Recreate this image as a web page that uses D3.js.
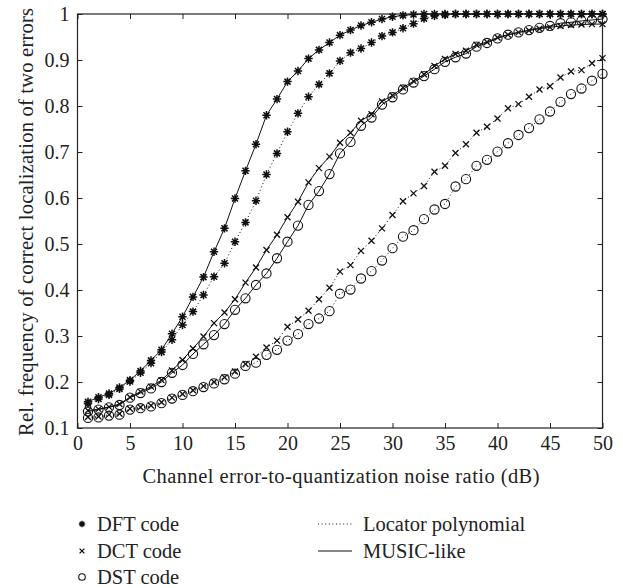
<!DOCTYPE html>
<html>
<head>
<meta charset="utf-8">
<script src="https://cdn.jsdelivr.net/npm/d3@7"></script>
<style>
html,body{margin:0;padding:0;background:#fff;}
svg{display:block;}
text{font-family:"Liberation Serif","Times New Roman",serif;fill:#222;}
</style>
</head>
<body>
<svg id="chart" width="623" height="588"></svg>
<script>
// ---- data ----
const snr = d3.range(1, 51);
const xTicks = [0,5,10,15,20,25,30,35,40,45,50];
const yTicks = [0.1,0.2,0.3,0.4,0.5,0.6,0.7,0.8,0.9,1];
const yTickLabels = ["0.1","0.2","0.3","0.4","0.5","0.6","0.7","0.8","0.9","1"];

const dftMusic = [0.157,0.167,0.175,0.188,0.204,0.224,0.247,0.270,0.305,0.342,
  0.385,0.428,0.483,0.534,0.599,0.659,0.717,0.780,0.815,0.853,
  0.876,0.903,0.922,0.938,0.954,0.965,0.975,0.982,0.989,0.994,
  0.997,0.999,1,1,1,1,1,1,1,1, 1,1,1,1,1,1,1,1,1,1];
const dftLocator = [0.153,0.163,0.172,0.185,0.201,0.220,0.241,0.265,0.292,0.324,
  0.353,0.389,0.429,0.458,0.505,0.547,0.594,0.651,0.697,0.744,
  0.784,0.820,0.847,0.871,0.898,0.916,0.925,0.938,0.952,0.960,
  0.969,0.979,0.990,0.996,0.998,1,1,1,1,1, 1,1,1,1,1,1,1,1,1,1];
const dctMusic = [0.138,0.141,0.146,0.152,0.167,0.179,0.190,0.204,0.225,0.248,
  0.273,0.299,0.328,0.351,0.380,0.416,0.449,0.487,0.520,0.558,
  0.592,0.634,0.665,0.690,0.720,0.742,0.768,0.782,0.810,0.823,
  0.840,0.854,0.869,0.887,0.902,0.913,0.920,0.933,0.939,0.949,
  0.955,0.960,0.964,0.968,0.971,0.974,0.976,0.977,0.978,0.978];
const dstMusic = [0.136,0.140,0.145,0.150,0.166,0.176,0.186,0.200,0.220,0.237,
  0.261,0.282,0.302,0.326,0.357,0.382,0.411,0.436,0.469,0.505,
  0.540,0.585,0.615,0.652,0.697,0.722,0.757,0.775,0.803,0.819,
  0.836,0.851,0.865,0.880,0.896,0.906,0.914,0.929,0.937,0.947,
  0.955,0.960,0.965,0.970,0.974,0.980,0.982,0.985,0.987,0.989];
const dctLocator = [0.124,0.125,0.129,0.131,0.142,0.145,0.149,0.156,0.166,0.174,
  0.182,0.191,0.200,0.210,0.223,0.239,0.255,0.275,0.290,0.320,
  0.336,0.355,0.380,0.405,0.440,0.454,0.485,0.507,0.534,0.563,
  0.593,0.610,0.626,0.657,0.670,0.698,0.717,0.742,0.755,0.773,
  0.795,0.804,0.820,0.836,0.843,0.862,0.875,0.878,0.893,0.904];
const dstLocator = [0.122,0.123,0.127,0.129,0.140,0.143,0.147,0.154,0.164,0.172,
  0.180,0.189,0.197,0.206,0.218,0.235,0.242,0.259,0.270,0.290,
  0.304,0.326,0.338,0.354,0.392,0.401,0.425,0.441,0.464,0.491,
  0.516,0.530,0.554,0.575,0.587,0.625,0.641,0.670,0.683,0.701,
  0.719,0.737,0.752,0.771,0.788,0.809,0.826,0.838,0.855,0.870];

const seriesList = [
  {values: dftMusic,   marker: "star",   style: "solid"},
  {values: dftLocator, marker: "star",   style: "dotted"},
  {values: dctMusic,   marker: "cross",  style: "solid"},
  {values: dctLocator, marker: "cross",  style: "dotted"},
  {values: dstMusic,   marker: "circle", style: "solid"},
  {values: dstLocator, marker: "circle", style: "dotted"}
];
const markerLegend = [
  {label: "DFT code", marker: "star"},
  {label: "DCT code", marker: "cross"},
  {label: "DST code", marker: "circle"}
];
const styleLegend = [
  {label: "Locator polynomial", style: "dotted"},
  {label: "MUSIC-like", style: "solid"}
];
const xLabel = "Channel error-to-quantization noise ratio (dB)";
const yLabel = "Rel. frequency of correct localization of two errors";

// ---- layout ----
const L = 77.5, R = 602.5, T = 14, B = 428;
const svg = d3.select("#chart");
const x = d3.scaleLinear().domain([0, 50]).range([L, R]);
const y = d3.scaleLinear().domain([0.1, 1]).range([B, T]);

function drawMarker(g, type, cx, cy, s) {
  if (type === "star") {
    const a = s, d = s * 0.72;
    const p = `M${cx-a},${cy}L${cx+a},${cy}M${cx},${cy-a}L${cx},${cy+a}` +
              `M${cx-d},${cy-d}L${cx+d},${cy+d}M${cx-d},${cy+d}L${cx+d},${cy-d}`;
    g.append("path").attr("d", p).attr("stroke", "#111").attr("stroke-width", 1.5).attr("fill", "none");
  } else if (type === "cross") {
    const a = s * 0.75;
    g.append("path").attr("d", `M${cx-a},${cy-a}L${cx+a},${cy+a}M${cx-a},${cy+a}L${cx+a},${cy-a}`)
      .attr("stroke", "#111").attr("stroke-width", 1.3).attr("fill", "none");
  } else {
    g.append("circle").attr("cx", cx).attr("cy", cy).attr("r", s)
      .attr("stroke", "#111").attr("stroke-width", 1.1).attr("fill", "none");
  }
}
const dash = {solid: null, dotted: "1,2.6"};

// axes
const tickFont = 20;
const gx = svg.append("g").attr("transform", `translate(0,${B})`)
  .call(d3.axisBottom(x).tickValues(xTicks).tickSize(-5).tickPadding(10).tickFormat(d3.format("d")));
const gy = svg.append("g").attr("transform", `translate(${L},0)`)
  .call(d3.axisLeft(y).tickValues(yTicks).tickSize(-5).tickPadding(8).tickFormat((d, i) => yTickLabels[i]));
const gt = svg.append("g").attr("transform", `translate(0,${T})`)
  .call(d3.axisTop(x).tickValues(xTicks).tickSize(-5).tickFormat(""));
const gr = svg.append("g").attr("transform", `translate(${R},0)`)
  .call(d3.axisRight(y).tickValues(yTicks).tickSize(-5).tickFormat(""));
[gx, gy, gt, gr].forEach(g => {
  g.select(".domain").remove();
  g.selectAll(".tick line").attr("stroke", "#222").attr("stroke-width", 1);
  g.selectAll(".tick text").attr("font-size", tickFont).attr("font-family", "Liberation Serif").attr("fill", "#222");
});
gx.selectAll(".tick text").attr("dy", "0.62em");
svg.append("rect").attr("x", L).attr("y", T).attr("width", R - L).attr("height", B - T)
  .attr("fill", "none").attr("stroke", "#222").attr("stroke-width", 1.2);

// series
const line = d3.line().x((d, i) => x(snr[i])).y(d => y(d));
seriesList.forEach(s => {
  svg.append("path").datum(s.values).attr("d", line)
    .attr("fill", "none").attr("stroke", "#111").attr("stroke-width", 1)
    .attr("stroke-dasharray", dash[s.style]);
  const g = svg.append("g");
  s.values.forEach((v, i) => {
    const size = s.marker === "circle" ? 4.6 : (s.marker === "star" ? 4.2 : 4);
    drawMarker(g, s.marker, x(snr[i]), y(v), size);
  });
});

// axis labels
svg.append("text").attr("x", (L + R) / 2 + 1).attr("y", 483).attr("text-anchor", "middle")
  .attr("font-size", 20.5).attr("textLength", 397).attr("lengthAdjust", "spacing").text(xLabel);
svg.append("text").attr("transform", `translate(32.5,${(T + B) / 2 + 1}) rotate(-90)`)
  .attr("text-anchor", "middle").attr("font-size", 20.5)
  .attr("textLength", 428).attr("lengthAdjust", "spacing").text(yLabel);

// legend
const rowY = [524, 551, 577];
markerLegend.forEach((m, i) => {
  const g = svg.append("g");
  drawMarker(g, m.marker, 82, rowY[i], m.marker === "circle" ? 3.3 : 3.2);
  svg.append("text").attr("x", 97).attr("y", rowY[i] + 7).attr("font-size", 20.5).text(m.label);
});
styleLegend.forEach((m, i) => {
  svg.append("line").attr("x1", 318).attr("x2", 352).attr("y1", rowY[i]).attr("y2", rowY[i])
    .attr("stroke", "#111").attr("stroke-width", 1).attr("stroke-dasharray", dash[m.style]);
  svg.append("text").attr("x", 363).attr("y", rowY[i] + 7).attr("font-size", 20.5).text(m.label);
});
</script>
</body>
</html>
